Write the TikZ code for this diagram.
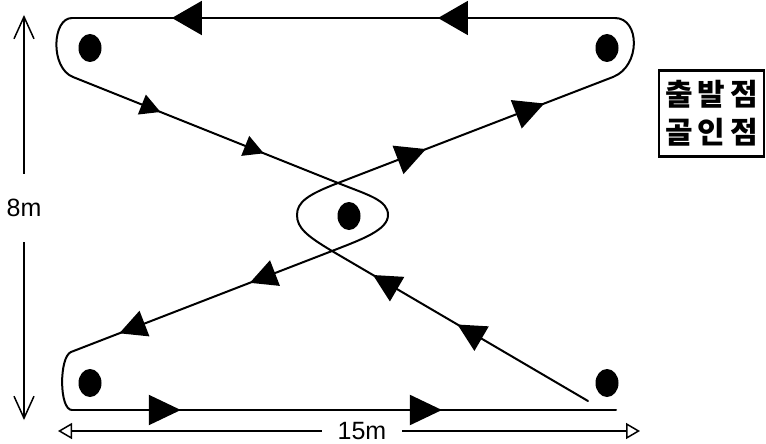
\documentclass[tikz,border=0pt]{standalone}
\usepackage{fontspec}
\setmainfont{Liberation Sans}
\newfontfamily\kr{Noto Sans CJK KR}
\usetikzlibrary{arrows.meta,shapes.geometric,decorations.markings}
\tikzset{
  post/.style={ellipse, fill=black, minimum width=23pt, minimum height=28pt, inner sep=0pt},
  run/.style={line width=2pt, line cap=round, line join=round},
  flow/.style n args={4}{run, postaction={decorate}, decoration={markings,
      mark=at position #1 with {\arrow{Triangle[length=#3pt,width=#4pt]}},
      mark=at position #2 with {\arrow{Triangle[length=#3pt,width=#4pt]}}}},
  dim/.style={line width=1.5pt},
  lbl/.style={font=\fontsize{25}{30}\selectfont, inner sep=0pt},
  key/.style={draw, line width=2.5pt, minimum width=105pt, minimum height=86pt, align=center,
      inner sep=0pt, font=\kr\bfseries\fontsize{30}{38}\selectfont},
}
\newcommand\gap{\hspace{5pt}}

\begin{document}
\begin{tikzpicture}[x=1pt,y=-1pt]
\useasboundingbox (0,0) rectangle (766,444);
\foreach \n/\x/\y in {tl/90/48,tr/607/48,c/349/216,bl/90/383,br/607/383}
  \node[post] (p\n) at (\x,\y) {};
\coordinate (start) at (588,401);
\coordinate (goal) at (616,410);
\coordinate (xl) at (332,251);
\coordinate (xu) at (338,183);
\coordinate (cw) at (297,215);
\coordinate (ce) at (388,215);
\coordinate (tr1) at (615,18);
\coordinate (tr2) at (613,77);
\coordinate (tl1) at (72,18);
\coordinate (tl2) at (73,77);
\coordinate (bl1) at (71,352);
\coordinate (bl2) at (72,410);
\draw[flow={0.51}{0.84}{28}{28}] (start) -- (xl);
\draw[run] (xl) .. controls (307,236) and (297,228) .. (cw)
  .. controls (297,202) and (308,194.5) .. (xu);
\draw[flow={0.32}{0.75}{30}{30}] (xu) -- (tr2);
\draw[run] (tr2) .. controls (641,66) and (640,18) .. (tr1);
\draw[flow={0.326}{0.816}{30}{34}] (tr1) -- (tl1);
\draw[run] (tl1) .. controls (52,18) and (50,68) .. (tl2);
\draw[flow={0.33}{0.72}{20}{21}] (tl2) -- (xu);
\draw[run] (xu) .. controls (368,195) and (388,200) .. (ce)
  .. controls (388,230) and (362,239.3) .. (xl);
\draw[flow={0.315}{0.815}{27}{27}] (xl) -- (bl1);
\draw[run] (bl1) .. controls (59,357) and (59,410) .. (bl2);
\draw[flow={0.20}{0.68}{32}{30}] (bl2) -- (goal);
\node[lbl, minimum height=68pt] (hgt) at (24,208) {8m};
\coordinate (htop) at (24,15);
\coordinate (hbot) at (24,420);
\draw[dim,-{Straight Barb[length=22pt,width=20pt]}] (hgt) -- (htop);
\draw[dim,-{Straight Barb[length=22pt,width=20pt]}] (hgt) -- (hbot);
\node[lbl, minimum width=80pt] (wid) at (362,431) {15m};
\coordinate (wl) at (58,431);
\coordinate (wr) at (640,431);
\draw[dim,-{Triangle[open,length=14pt,width=16pt]}] (wid) -- (wl);
\draw[dim,-{Triangle[open,length=14pt,width=16pt]}] (wid) -- (wr);
\node[key] (key) at (711.5,113.5) {출\gap 발\gap 점\\골\gap 인\gap 점};
\end{tikzpicture}
\end{document}
